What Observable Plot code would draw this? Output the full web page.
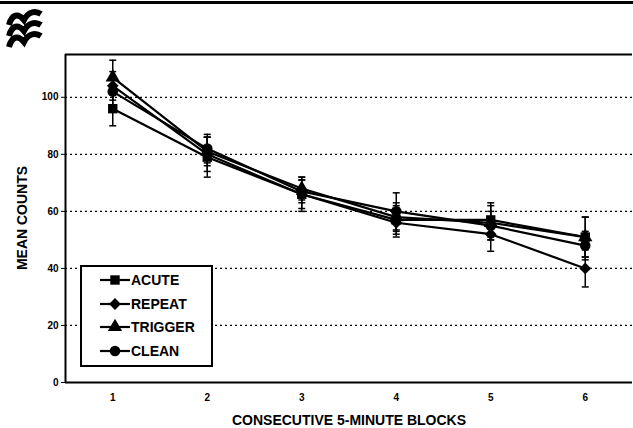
<!DOCTYPE html>
<html>
<head>
<meta charset="utf-8">
<script src="https://cdn.jsdelivr.net/npm/d3@7"></script>
<script src="https://cdn.jsdelivr.net/npm/@observablehq/plot@0.6"></script>
<style>
  body { margin: 0; background: #fff; }
  #wrap { position: relative; width: 633px; height: 428px; overflow: hidden; font-family: "Liberation Sans", Arial, sans-serif; font-weight: bold; }
  #topbar { position: absolute; left: 0; top: 1px; width: 633px; height: 3px; background: #000; }
  #logo { position: absolute; left: 6px; top: 8px; }
  #chart { position: absolute; left: 0; top: 0; }
  .title { position: absolute; font-size: 14px; white-space: nowrap; line-height: 1; }
  #xtitle { left: 65px; width: 568px; text-align: center; top: 413px; }
  #ytitle { left: 15px; top: 218px; transform-origin: 0 0; transform: rotate(-90deg) translate(-50%, 0); }
  #legend { position: absolute; left: 80px; top: 265px; width: 129px; height: 98px; border: 2px solid #000; background: #fff; }
  .lg-row { position: absolute; left: 0; height: 20px; display: flex; align-items: center; font-size: 14px; }
  .lg-row svg { margin-left: 18px; margin-right: 1px; }
</style>
</head>
<body>
<div id="wrap">
  <div id="topbar"></div>
  <svg id="logo" width="40" height="42" viewBox="0 0 40 42">
    <g fill="none" stroke="#000" stroke-width="6" stroke-linecap="butt">
      <path d="M3,17 C6,6 12,5 18,12 C22,4 29,2 35,6"/>
      <path d="M3,28 C6,17 12,16 18,23 C22,15 29,13 35,17"/>
      <path d="M3,39 C6,28 12,27 18,34 C22,26 29,24 35,28"/>
    </g>
  </svg>
  <div id="chart"></div>
  <div id="legend"></div>
  <div id="xtitle" class="title"></div>
  <div id="ytitle" class="title"></div>
</div>
<script>
// ---- data ----
const blocks = [1, 2, 3, 4, 5, 6];
const seriesNames = ["ACUTE", "REPEAT", "TRIGGER", "CLEAN"];
const acuteMeans   = [96, 79, 66, 57, 57, 51];
const repeatMeans  = [104, 80, 66, 56, 52, 40];
const triggerMeans = [107, 81, 68, 58, 56, 51];
const cleanMeans   = [102, 82, 67, 60, 55, 48];
const acuteSE   = [6, 7, 6, 5, 6, 7];
const repeatSE  = [5, 6, 5, 5, 6, 6.5];
const triggerSE = [6, 5, 4, 5, 6, 7];
const cleanSE   = [5, 5, 4, 6.5, 5, 5];
const yTicks = [0, 20, 40, 60, 80, 100];
const gridTicks = [20, 40, 60, 80, 100];
const xTitle = "CONSECUTIVE 5-MINUTE BLOCKS";
const yTitle = "MEAN COUNTS";
const symbolNames = ["square", "diamond2", "triangle", "circle"];

const xDomain = [0.5, 6.5];
const yDomain = [0, 115];

const meansBySeries = [acuteMeans, repeatMeans, triggerMeans, cleanMeans];
const seBySeries = [acuteSE, repeatSE, triggerSE, cleanSE];
const rows = seriesNames.flatMap((s, i) =>
  blocks.map((b, j) => ({ block: b, series: s, mean: meansBySeries[i][j], se: seBySeries[i][j] })));

const capSymbol = { draw(ctx, size) { ctx.moveTo(-3.5, 0); ctx.lineTo(3.5, 0); } };

const chart = Plot.plot({
  width: 633,
  height: 428,
  marginLeft: 65,
  marginRight: 1,
  marginTop: 54,
  marginBottom: 46,
  style: { fontFamily: "'Liberation Sans', Arial, sans-serif", fontSize: "10px", fontWeight: "bold", color: "#000", background: "transparent" },
  x: { domain: xDomain, ticks: blocks, tickSize: 0, tickPadding: 11, tickFormat: d => String(d), label: null },
  y: { domain: yDomain, ticks: yTicks, tickSize: 4, tickPadding: 3, label: null },
  symbol: { domain: seriesNames, range: symbolNames, legend: false },
  marks: [
    Plot.ruleY(gridTicks, { stroke: "#000", strokeWidth: 1.3, strokeDasharray: "2,3" }),
    Plot.ruleX([xDomain[0]], { stroke: "#000", strokeWidth: 2 }),
    Plot.ruleY([yDomain[0]], { stroke: "#000", strokeWidth: 2 }),
    Plot.ruleY([yDomain[1]], { stroke: "#000", strokeWidth: 2 }),
    Plot.ruleX(rows, { x: "block", y1: d => d.mean - d.se, y2: d => d.mean + d.se, stroke: "#000", strokeWidth: 1.5 }),
    Plot.dot(rows, { x: "block", y: d => d.mean + d.se, symbol: capSymbol, r: 3, stroke: "#000", strokeWidth: 1.5, fill: "none" }),
    Plot.dot(rows, { x: "block", y: d => d.mean - d.se, symbol: capSymbol, r: 3, stroke: "#000", strokeWidth: 1.5, fill: "none" }),
    Plot.line(rows, { x: "block", y: "mean", z: "series", stroke: "#000", strokeWidth: 2.2 }),
    Plot.dot(rows, { x: "block", y: "mean", symbol: "series", fill: "#000", stroke: "none", r: 5.3 })
  ]
});
document.getElementById("chart").appendChild(chart);
document.getElementById("xtitle").textContent = xTitle;
document.getElementById("ytitle").textContent = yTitle;

// legend
const legend = document.getElementById("legend");
const d3sym = { square: d3.symbolSquare, diamond2: d3.symbolDiamond2, triangle: d3.symbolTriangle, circle: d3.symbolCircle };
seriesNames.forEach((name, i) => {
  const row = document.createElement("div");
  row.className = "lg-row";
  row.style.top = (3 + i * 23.5) + "px";
  const r = 5.3;
  const path = d3.symbol(d3sym[symbolNames[i]], r * r * Math.PI)();
  row.innerHTML = `<svg width="30" height="20"><line x1="0" x2="30" y1="10" y2="10" stroke="#000" stroke-width="2.2"/><path transform="translate(15,10)" d="${path}" fill="#000"/></svg><span>${name}</span>`;
  legend.appendChild(row);
});
</script>
</body>
</html>
